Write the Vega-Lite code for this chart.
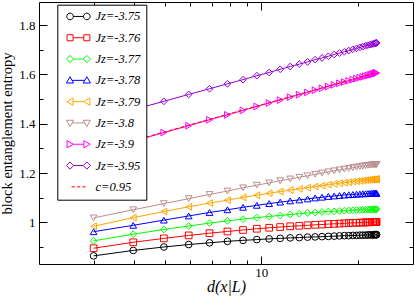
{
  "$schema": "https://vega.github.io/schema/vega-lite/v6.json",
  "width": 374,
  "height": 262,
  "autosize": {"type": "none"},
  "padding": {"left": 39, "top": 2, "right": 2, "bottom": 32},
  "config": {
    "font": "Liberation Serif",
    "view": {"stroke": "#000", "strokeWidth": 1},
    "axis": {"domain": false, "grid": false, "tickColor": "#000", "tickWidth": 1, "labelFont": "Liberation Serif", "labelFontSize": 13, "labelColor": "#000", "titleFont": "Liberation Serif", "titleFontWeight": "normal", "titleColor": "#000", "labelOverlap": false, "labelFlush": false}
  },
  "datasets": {
    "ent": [
      {"d": 2.992, "Jz=-3.75": 0.864, "Jz=-3.76": 0.895, "Jz=-3.77": 0.925, "Jz=-3.78": 0.962, "Jz=-3.79": 0.984, "Jz=-3.8": 1.018, "Jz=-3.9": 1.284, "Jz=-3.95": 1.412},
      {"d": 3.980, "Jz=-3.75": 0.886, "Jz=-3.76": 0.919, "Jz=-3.77": 0.952, "Jz=-3.78": 0.988, "Jz=-3.79": 1.019, "Jz=-3.8": 1.051, "Jz=-3.9": 1.329, "Jz=-3.95": 1.457},
      {"d": 4.961, "Jz=-3.75": 0.900, "Jz=-3.76": 0.935, "Jz=-3.77": 0.971, "Jz=-3.78": 1.009, "Jz=-3.79": 1.044, "Jz=-3.8": 1.076, "Jz=-3.9": 1.364, "Jz=-3.95": 1.491},
      {"d": 5.932, "Jz=-3.75": 0.910, "Jz=-3.76": 0.947, "Jz=-3.77": 0.985, "Jz=-3.78": 1.026, "Jz=-3.79": 1.063, "Jz=-3.8": 1.096, "Jz=-3.9": 1.392, "Jz=-3.95": 1.519},
      {"d": 6.892, "Jz=-3.75": 0.917, "Jz=-3.76": 0.956, "Jz=-3.77": 0.997, "Jz=-3.78": 1.040, "Jz=-3.79": 1.078, "Jz=-3.8": 1.113, "Jz=-3.9": 1.416, "Jz=-3.95": 1.542},
      {"d": 7.839, "Jz=-3.75": 0.923, "Jz=-3.76": 0.963, "Jz=-3.77": 1.006, "Jz=-3.78": 1.051, "Jz=-3.79": 1.090, "Jz=-3.8": 1.127, "Jz=-3.9": 1.436, "Jz=-3.95": 1.562},
      {"d": 8.771, "Jz=-3.75": 0.927, "Jz=-3.76": 0.969, "Jz=-3.77": 1.013, "Jz=-3.78": 1.061, "Jz=-3.79": 1.101, "Jz=-3.8": 1.140, "Jz=-3.9": 1.454, "Jz=-3.95": 1.579},
      {"d": 9.686, "Jz=-3.75": 0.930, "Jz=-3.76": 0.974, "Jz=-3.77": 1.019, "Jz=-3.78": 1.069, "Jz=-3.79": 1.110, "Jz=-3.8": 1.151, "Jz=-3.9": 1.470, "Jz=-3.95": 1.595},
      {"d": 10.583, "Jz=-3.75": 0.933, "Jz=-3.76": 0.978, "Jz=-3.77": 1.024, "Jz=-3.78": 1.076, "Jz=-3.79": 1.118, "Jz=-3.8": 1.160, "Jz=-3.9": 1.484, "Jz=-3.95": 1.608},
      {"d": 11.459, "Jz=-3.75": 0.935, "Jz=-3.76": 0.981, "Jz=-3.77": 1.028, "Jz=-3.78": 1.082, "Jz=-3.79": 1.125, "Jz=-3.8": 1.169, "Jz=-3.9": 1.496, "Jz=-3.95": 1.621},
      {"d": 12.314, "Jz=-3.75": 0.937, "Jz=-3.76": 0.984, "Jz=-3.77": 1.032, "Jz=-3.78": 1.087, "Jz=-3.79": 1.131, "Jz=-3.8": 1.176, "Jz=-3.9": 1.508, "Jz=-3.95": 1.632},
      {"d": 13.146, "Jz=-3.75": 0.938, "Jz=-3.76": 0.986, "Jz=-3.77": 1.035, "Jz=-3.78": 1.091, "Jz=-3.79": 1.136, "Jz=-3.8": 1.183, "Jz=-3.9": 1.518, "Jz=-3.95": 1.642},
      {"d": 13.952, "Jz=-3.75": 0.940, "Jz=-3.76": 0.988, "Jz=-3.77": 1.038, "Jz=-3.78": 1.095, "Jz=-3.79": 1.141, "Jz=-3.8": 1.189, "Jz=-3.9": 1.527, "Jz=-3.95": 1.651},
      {"d": 14.732, "Jz=-3.75": 0.941, "Jz=-3.76": 0.990, "Jz=-3.77": 1.040, "Jz=-3.78": 1.099, "Jz=-3.79": 1.145, "Jz=-3.8": 1.195, "Jz=-3.9": 1.536, "Jz=-3.95": 1.660},
      {"d": 15.484, "Jz=-3.75": 0.942, "Jz=-3.76": 0.991, "Jz=-3.77": 1.042, "Jz=-3.78": 1.102, "Jz=-3.79": 1.149, "Jz=-3.8": 1.200, "Jz=-3.9": 1.544, "Jz=-3.95": 1.667},
      {"d": 16.206, "Jz=-3.75": 0.943, "Jz=-3.76": 0.993, "Jz=-3.77": 1.044, "Jz=-3.78": 1.105, "Jz=-3.79": 1.153, "Jz=-3.8": 1.205, "Jz=-3.9": 1.551, "Jz=-3.95": 1.674},
      {"d": 16.898, "Jz=-3.75": 0.944, "Jz=-3.76": 0.994, "Jz=-3.77": 1.045, "Jz=-3.78": 1.107, "Jz=-3.79": 1.156, "Jz=-3.8": 1.209, "Jz=-3.9": 1.558, "Jz=-3.95": 1.681},
      {"d": 17.557, "Jz=-3.75": 0.945, "Jz=-3.76": 0.995, "Jz=-3.77": 1.046, "Jz=-3.78": 1.109, "Jz=-3.79": 1.159, "Jz=-3.8": 1.213, "Jz=-3.9": 1.564, "Jz=-3.95": 1.687},
      {"d": 18.183, "Jz=-3.75": 0.946, "Jz=-3.76": 0.996, "Jz=-3.77": 1.047, "Jz=-3.78": 1.111, "Jz=-3.79": 1.161, "Jz=-3.8": 1.216, "Jz=-3.9": 1.569, "Jz=-3.95": 1.692},
      {"d": 18.774, "Jz=-3.75": 0.946, "Jz=-3.76": 0.997, "Jz=-3.77": 1.048, "Jz=-3.78": 1.112, "Jz=-3.79": 1.163, "Jz=-3.8": 1.219, "Jz=-3.9": 1.574, "Jz=-3.95": 1.697},
      {"d": 19.330, "Jz=-3.75": 0.947, "Jz=-3.76": 0.998, "Jz=-3.77": 1.049, "Jz=-3.78": 1.113, "Jz=-3.79": 1.165, "Jz=-3.8": 1.222, "Jz=-3.9": 1.579, "Jz=-3.95": 1.702},
      {"d": 19.849, "Jz=-3.75": 0.947, "Jz=-3.76": 0.998, "Jz=-3.77": 1.050, "Jz=-3.78": 1.114, "Jz=-3.79": 1.167, "Jz=-3.8": 1.224, "Jz=-3.9": 1.583, "Jz=-3.95": 1.706},
      {"d": 20.330, "Jz=-3.75": 0.948, "Jz=-3.76": 0.999, "Jz=-3.77": 1.050, "Jz=-3.78": 1.115, "Jz=-3.79": 1.168, "Jz=-3.8": 1.226, "Jz=-3.9": 1.587, "Jz=-3.95": 1.710},
      {"d": 20.772, "Jz=-3.75": 0.948, "Jz=-3.76": 0.999, "Jz=-3.77": 1.051, "Jz=-3.78": 1.116, "Jz=-3.79": 1.170, "Jz=-3.8": 1.228, "Jz=-3.9": 1.590, "Jz=-3.95": 1.713},
      {"d": 21.175, "Jz=-3.75": 0.948, "Jz=-3.76": 1.000, "Jz=-3.77": 1.051, "Jz=-3.78": 1.116, "Jz=-3.79": 1.171, "Jz=-3.8": 1.230, "Jz=-3.9": 1.593, "Jz=-3.95": 1.716},
      {"d": 21.537, "Jz=-3.75": 0.949, "Jz=-3.76": 1.000, "Jz=-3.77": 1.052, "Jz=-3.78": 1.117, "Jz=-3.79": 1.172, "Jz=-3.8": 1.231, "Jz=-3.9": 1.596, "Jz=-3.95": 1.719},
      {"d": 21.859, "Jz=-3.75": 0.949, "Jz=-3.76": 1.000, "Jz=-3.77": 1.052, "Jz=-3.78": 1.117, "Jz=-3.79": 1.173, "Jz=-3.8": 1.232, "Jz=-3.9": 1.598, "Jz=-3.95": 1.721},
      {"d": 22.139, "Jz=-3.75": 0.949, "Jz=-3.76": 1.001, "Jz=-3.77": 1.052, "Jz=-3.78": 1.118, "Jz=-3.79": 1.173, "Jz=-3.8": 1.233, "Jz=-3.9": 1.600, "Jz=-3.95": 1.723},
      {"d": 22.376, "Jz=-3.75": 0.949, "Jz=-3.76": 1.001, "Jz=-3.77": 1.053, "Jz=-3.78": 1.118, "Jz=-3.79": 1.174, "Jz=-3.8": 1.234, "Jz=-3.9": 1.602, "Jz=-3.95": 1.724},
      {"d": 22.571, "Jz=-3.75": 0.950, "Jz=-3.76": 1.001, "Jz=-3.77": 1.053, "Jz=-3.78": 1.118, "Jz=-3.79": 1.174, "Jz=-3.8": 1.234, "Jz=-3.9": 1.603, "Jz=-3.95": 1.726},
      {"d": 22.723, "Jz=-3.75": 0.950, "Jz=-3.76": 1.001, "Jz=-3.77": 1.053, "Jz=-3.78": 1.118, "Jz=-3.79": 1.175, "Jz=-3.8": 1.235, "Jz=-3.9": 1.605, "Jz=-3.95": 1.727},
      {"d": 22.832, "Jz=-3.75": 0.950, "Jz=-3.76": 1.002, "Jz=-3.77": 1.053, "Jz=-3.78": 1.118, "Jz=-3.79": 1.175, "Jz=-3.8": 1.235, "Jz=-3.9": 1.605, "Jz=-3.95": 1.728},
      {"d": 22.898, "Jz=-3.75": 0.950, "Jz=-3.76": 1.002, "Jz=-3.77": 1.053, "Jz=-3.78": 1.118, "Jz=-3.79": 1.175, "Jz=-3.8": 1.235, "Jz=-3.9": 1.606, "Jz=-3.95": 1.728},
      {"d": 22.918, "Jz=-3.75": 0.950, "Jz=-3.76": 1.002, "Jz=-3.77": 1.053, "Jz=-3.78": 1.118, "Jz=-3.79": 1.175, "Jz=-3.8": 1.235, "Jz=-3.9": 1.606, "Jz=-3.95": 1.728}
    ],
    "fit": [
      {"d": 2.992, "S": 1.286},
      {"d": 22.918, "S": 1.608}
    ]
  },
  "resolve": {"scale": {"shape": "independent", "color": "independent"}, "axis": {"x": "independent", "y": "independent"}},
  "layer": [
    {
      "data": {"name": "ent"},
      "transform": [{"fold": ["Jz=-3\\.75", "Jz=-3\\.76", "Jz=-3\\.77", "Jz=-3\\.78", "Jz=-3\\.79", "Jz=-3\\.8", "Jz=-3\\.9", "Jz=-3\\.95"], "as": ["J", "S"]}],
      "mark": {"type": "line", "strokeWidth": 1},
      "encoding": {
        "x": {"field": "d", "type": "quantitative",
          "scale": {"type": "log", "domain": [2.02, 29.8], "nice": false},
          "axis": {"orient": "bottom", "values": [10], "offset": -8, "tickSize": 8, "labelPadding": 2, "labelAlign": "center",
            "title": "d(x|L)", "titleFontStyle": "italic", "titleFontSize": 16,
            "titleX": 187, "titleY": 30.5, "titleAlign": "center", "titleBaseline": "middle"}},
        "y": {"field": "S", "type": "quantitative",
          "scale": {"domain": [0.831, 1.894], "nice": false, "zero": false},
          "axis": {"orient": "left", "values": [1, 1.2, 1.4, 1.6, 1.8], "format": "~g", "offset": -8, "tickSize": 8, "labelPadding": 4,
            "labelAlign": "right", "labelBaseline": "middle",
            "title": "block entanglement entropy", "titleFontSize": 14.5, "titlePadding": 4}},
        "color": {"field": "J", "type": "nominal",
          "scale": {"domain": ["Jz=-3.75", "Jz=-3.76", "Jz=-3.77", "Jz=-3.78", "Jz=-3.79", "Jz=-3.8", "Jz=-3.9", "Jz=-3.95"],
            "range": ["#000000", "#ff0000", "#00ff00", "#0000ff", "#ffa500", "#bc8f8f", "#ff00ff", "#9400d3"]},
          "legend": null}
      }
    },
    {
      "data": {"name": "ent"},
      "transform": [{"fold": ["Jz=-3\\.75", "Jz=-3\\.76", "Jz=-3\\.77", "Jz=-3\\.78", "Jz=-3\\.79", "Jz=-3\\.8", "Jz=-3\\.9", "Jz=-3\\.95"], "as": ["J", "S"]}],
      "mark": {"type": "point", "filled": false, "size": 45, "strokeWidth": 1, "opacity": 1},
      "encoding": {
        "x": {"field": "d", "type": "quantitative",
          "axis": {"orient": "top", "values": [10], "offset": -8, "tickSize": 8, "labels": false, "title": null}},
        "y": {"field": "S", "type": "quantitative",
          "axis": {"orient": "right", "values": [1, 1.2, 1.4, 1.6, 1.8], "offset": -8, "tickSize": 8, "labels": false, "title": null}},
        "color": {"field": "J", "type": "nominal",
          "scale": {"domain": ["Jz=-3.75", "Jz=-3.76", "Jz=-3.77", "Jz=-3.78", "Jz=-3.79", "Jz=-3.8", "Jz=-3.9", "Jz=-3.95"],
            "range": ["#000000", "#ff0000", "#00ff00", "#0000ff", "#ffa500", "#bc8f8f", "#ff00ff", "#9400d3"]},
          "legend": null},
        "shape": {"field": "J", "type": "nominal",
          "scale": {"domain": ["Jz=-3.75", "Jz=-3.76", "Jz=-3.77", "Jz=-3.78", "Jz=-3.79", "Jz=-3.8", "Jz=-3.9", "Jz=-3.95"],
            "range": ["circle", "square", "diamond", "triangle-up", "triangle-left", "triangle-down", "triangle-right", "diamond"]},
          "legend": null}
      }
    },
    {
      "data": {"name": "fit"},
      "mark": {"type": "line", "color": "#ff0000", "strokeWidth": 1, "strokeDash": [4, 2]},
      "encoding": {
        "x": {"field": "d", "type": "quantitative",
          "axis": {"orient": "bottom", "values": [3, 4, 5, 6, 7, 8, 9, 20], "offset": -4, "tickSize": 4, "labels": false, "title": null}},
        "y": {"field": "S", "type": "quantitative",
          "axis": {"orient": "left", "values": [0.9, 1.1, 1.3, 1.5, 1.7], "offset": -4, "tickSize": 4, "labels": false, "title": null}}
      }
    },
    {
      "data": {"name": "ent"},
      "transform": [{"fold": ["Jz=-3\\.75", "Jz=-3\\.76", "Jz=-3\\.77", "Jz=-3\\.78", "Jz=-3\\.79", "Jz=-3\\.8", "Jz=-3\\.9", "Jz=-3\\.95"], "as": ["J", "S"]}],
      "mark": {"type": "point", "filled": false, "size": 36, "opacity": 0},
      "encoding": {
        "x": {"field": "d", "type": "quantitative",
          "axis": {"orient": "top", "values": [3, 4, 5, 6, 7, 8, 9, 20], "offset": -4, "tickSize": 4, "labels": false, "title": null}},
        "y": {"field": "S", "type": "quantitative",
          "axis": {"orient": "right", "values": [0.9, 1.1, 1.3, 1.5, 1.7], "offset": -4, "tickSize": 4, "labels": false, "title": null}},
        "color": {"field": "J", "type": "nominal",
          "scale": {"domain": ["Jz=-3.75", "Jz=-3.76", "Jz=-3.77", "Jz=-3.78", "Jz=-3.79", "Jz=-3.8", "Jz=-3.9", "Jz=-3.95", "c=0.95"],
            "range": ["#000000", "#ff0000", "#00ff00", "#0000ff", "#ffa500", "#bc8f8f", "#ff00ff", "#9400d3", "#ff0000"]},
          "legend": {"orient": "none", "legendX": 18.3, "legendY": 2.7, "title": null,
            "padding": 5.5, "strokeColor": "#000", "fillColor": "#fff", "cornerRadius": 0,
            "symbolSize": 36, "symbolStrokeWidth": 1, "symbolOffset": 9.4, "labelOffset": 10.7,
            "labelFont": "Liberation Serif", "labelFontSize": 12.5, "labelFontStyle": "italic", "labelColor": "#000",
            "rowPadding": 8.3, "symbolOpacity": 1, "zindex": 1}},
        "shape": {"field": "J", "type": "nominal",
          "scale": {"domain": ["Jz=-3.75", "Jz=-3.76", "Jz=-3.77", "Jz=-3.78", "Jz=-3.79", "Jz=-3.8", "Jz=-3.9", "Jz=-3.95", "c=0.95"],
            "range": [
              "M-1.7,0A1.1,1.1 0 1,1 -3.9,0A1.1,1.1 0 1,1 -1.7,0ZM3.9,0A1.1,1.1 0 1,1 1.7,0A1.1,1.1 0 1,1 3.9,0ZM-1.7,0L1.7,0",
              "M-3.8,-1H-1.8V1H-3.8ZM1.8,-1H3.8V1H1.8ZM-1.8,0H1.8",
              "M-4,0L-2.8,-1.2L-1.6,0L-2.8,1.2ZM1.6,0L2.8,-1.2L4,0L2.8,1.2ZM-1.6,0H1.6",
              "M-2.8,-1.2L-1.6,0.9H-4ZM2.8,-1.2L4,0.9H1.6ZM-2.1,0H2.1",
              "M-3.9,0L-1.8,-1.2V1.2ZM1.7,0L3.8,-1.2V1.2ZM-1.8,0H1.7",
              "M-2.8,1.2L-1.6,-0.9H-4ZM2.8,1.2L4,-0.9H1.6ZM-2.1,0H2.1",
              "M-3.8,-1.2L-1.7,0L-3.8,1.2ZM1.8,-1.2L3.9,0L1.8,1.2ZM-1.7,0H1.8",
              "M-4,0L-2.8,-1.2L-1.6,0L-2.8,1.2ZM1.6,0L2.8,-1.2L4,0L2.8,1.2ZM-1.6,0H1.6",
              "M-2.3,0H-1.2M-0.5,0H0.6M1.3,0H2.4"
            ]},
          "legend": {"orient": "none", "legendX": 18.3, "legendY": 2.7, "title": null,
            "padding": 5.5, "strokeColor": "#000", "fillColor": "#fff", "cornerRadius": 0,
            "symbolSize": 36, "symbolStrokeWidth": 1, "symbolOffset": 9.4, "labelOffset": 10.7,
            "labelFont": "Liberation Serif", "labelFontSize": 12.5, "labelFontStyle": "italic", "labelColor": "#000",
            "rowPadding": 8.3, "symbolOpacity": 1, "zindex": 1,
            "encode": {"symbols": {"update": {"fill": {"value": "transparent"}, "opacity": {"value": 1}}}}}
        }
      }
    }
  ]
}
